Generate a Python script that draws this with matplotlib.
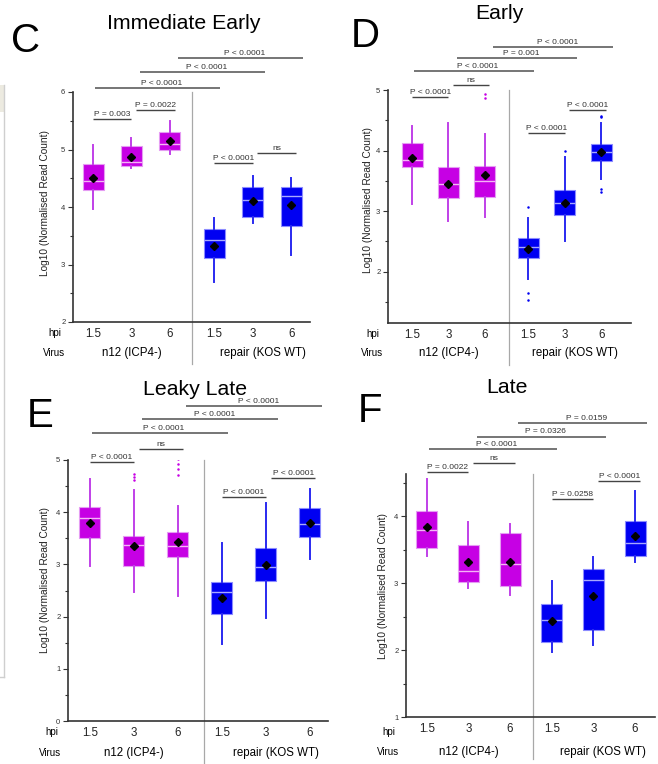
import matplotlib
matplotlib.use('Agg')
from matplotlib import pyplot as plt
import matplotlib.transforms as mtransforms
from matplotlib.lines import Line2D
from matplotlib.patches import Rectangle

plt.rcParams['font.family'] = ['Liberation Sans', 'DejaVu Sans']

W, H = 658, 764

hpi = ['1.5', '3', '6', '1.5', '3', '6']
virus = ['n12 (ICP4-)', 'repair (KOS WT)']
pairs = [(0, 1), (1, 2), (3, 4), (4, 5), (0, 3), (1, 4), (2, 5)]

# C - Immediate Early
ie_lo = [3.97, 4.68, 4.92, 2.70, 3.72, 3.17]
ie_q1 = [4.30, 4.72, 5.00, 3.11, 3.83, 3.67]
ie_med = [4.45, 4.79, 5.10, 3.43, 4.12, 4.19]
ie_q3 = [4.75, 5.06, 5.30, 3.62, 4.35, 4.35]
ie_hi = [5.08, 5.20, 5.50, 3.81, 4.54, 4.50]
ie_mean = [4.50, 4.87, 5.15, 3.32, 4.10, 4.03]
ie_out = [[], [], [], [], [], []]
ie_p = ['P = 0.003', 'P = 0.0022', 'P < 0.0001', 'ns',
        'P < 0.0001', 'P < 0.0001', 'P < 0.0001']

# D - Early
e_lo = [3.12, 2.83, 2.90, 1.87, 2.50, 3.53]
e_q1 = [3.72, 3.21, 3.23, 2.22, 2.94, 3.83]
e_med = [3.85, 3.44, 3.49, 2.41, 3.14, 3.97]
e_q3 = [4.13, 3.72, 3.75, 2.55, 3.35, 4.10]
e_hi = [4.41, 4.46, 4.28, 2.88, 3.90, 4.46]
e_mean = [3.87, 3.45, 3.59, 2.38, 3.14, 3.98]
e_out = [[], [], [4.93, 4.87], [3.07, 1.64, 1.53], [4.0], [4.57, 4.55, 3.37, 3.31]]
e_p = ['P < 0.0001', 'ns', 'P < 0.0001', 'P < 0.0001',
       'P < 0.0001', 'P = 0.001', 'P < 0.0001']

# E - Leaky Late
ll_lo = [2.97, 2.47, 2.39, 1.48, 1.97, 3.10]
ll_q1 = [3.51, 2.97, 3.14, 2.05, 2.68, 3.52]
ll_med = [3.89, 3.37, 3.35, 2.47, 2.95, 3.77]
ll_q3 = [4.10, 3.55, 3.62, 2.66, 3.31, 4.08]
ll_hi = [4.64, 4.42, 4.12, 3.41, 4.18, 4.44]
ll_mean = [3.80, 3.36, 3.43, 2.36, 2.99, 3.79]
ll_out = [[], [4.73, 4.67, 4.61], [5.02, 4.92, 4.82, 4.71], [], [], []]
ll_p = ['P < 0.0001', 'ns', 'P < 0.0001', 'P < 0.0001',
        'P < 0.0001', 'P < 0.0001', 'P < 0.0001']

# F - Late
l_lo = [3.40, 2.93, 2.82, 1.97, 2.07, 3.31]
l_q1 = [3.52, 3.01, 2.96, 2.12, 2.30, 3.40]
l_med = [3.79, 3.18, 3.28, 2.45, 3.05, 3.60]
l_q3 = [4.07, 3.57, 3.75, 2.69, 3.21, 3.93]
l_hi = [4.55, 3.91, 3.88, 3.03, 3.39, 4.37]
l_mean = [3.84, 3.31, 3.31, 2.44, 2.81, 3.70]
l_out = [[], [], [], [], [], []]
l_p = ['P = 0.0022', 'ns', 'P = 0.0258', 'P < 0.0001',
       'P < 0.0001', 'P = 0.0326', 'P = 0.0159']

MAG, BLUE = '#C600E4', '#0000F2'
box_face = [MAG] * 3 + [BLUE] * 3
box_edge = ['#E59CF3'] * 3 + ['#8C8CFF'] * 3
med_col = ['#F4B4F6'] * 3 + ['#A8A8FF'] * 3
whisk_col = ['#C040E8'] * 3 + ['#2A2AF0'] * 3

fig = plt.figure(figsize=(W / 100, H / 100), dpi=100)


def panel(stats, pvals, letter, title, rect, ylim, major, gap, xlim,
          sep, levels, lab_pos):
    left, top, right, bottom = rect
    ax = fig.add_axes([left / W, 1 - bottom / H, (right - left) / W, (bottom - top) / H])
    lo, q1, med, q3, hi, mn, out = stats
    pos = [0, 1, 2, 3 + gap, 4 + gap, 5 + gap]
    unit = (right - left) / (xlim[1] - xlim[0])
    bw = 21 / unit
    st = [dict(whislo=lo[k], q1=q1[k], med=med[k], q3=q3[k], whishi=hi[k],
               mean=mn[k], fliers=out[k]) for k in range(6)]
    res = ax.bxp(st, positions=pos, widths=bw, showmeans=True, showcaps=False,
                 patch_artist=True,
                 meanprops=dict(marker='D', markerfacecolor='black',
                                markeredgecolor='black', markersize=4.5),
                 flierprops=dict(marker='o', markersize=1.8, markeredgewidth=0))
    for k in range(6):
        res['boxes'][k].set(facecolor=box_face[k], edgecolor=box_edge[k], linewidth=0.8)
        res['medians'][k].set(color=med_col[k], linewidth=1.0)
        for w in res['whiskers'][2 * k:2 * k + 2]:
            w.set(color=whisk_col[k], linewidth=1.4)
        res['fliers'][k].set(markerfacecolor=box_face[k])
    ax.set_xlim(*xlim)
    ax.set_ylim(*ylim)
    ax.set_yticks(major)
    ax.set_yticks([v + 0.5 for v in major if v + 0.5 < ylim[1]] +
                  ([major[0] - 0.5] if major[0] - 0.5 > ylim[0] else []), minor=True)
    ax.tick_params(axis='y', which='major', length=3.5, width=0.8, labelsize=5.5,
                   colors='#333333', pad=2)
    ax.tick_params(axis='y', which='minor', length=2, width=0.8, colors='#333333')
    ax.set_xticks(pos, hpi)
    ax.tick_params(axis='x', length=0, labelsize=8.3, pad=4, colors='#222222')
    for s in ['top', 'right']:
        ax.spines[s].set_visible(False)
    for s in ['left', 'bottom']:
        ax.spines[s].set(color='#333333', linewidth=1.2)

    # separator between the two viruses
    trans = mtransforms.blended_transform_factory(ax.transData, ax.transAxes)
    ax.plot([sep, sep], [1.0, -42 / (bottom - top)], color='#A8A8A8', lw=0.9,
            transform=trans, clip_on=False)

    # significance brackets
    for k, ((i, j), lab, yl) in enumerate(zip(pairs, pvals, levels)):
        if j - i == 3:
            x0 = pos[i] + (0.05 if k == 4 else 0.22) * 38 / unit
            x1 = pos[j] + (0.15 if k == 4 else 0.32) * 38 / unit
            col, lw, tshift = '#6A6A6A', 1.3, 4 / unit
        else:
            d = 0.12 if i in (1, 4) else 0.0
            x0, x1 = pos[i] + d, pos[j] + d
            col, lw, tshift = '#444444', 1.0, 0.0
        ax.plot([x0, x1], [yl, yl], color=col, lw=lw, clip_on=False,
                solid_capstyle='butt')
        ax.annotate(lab, ((x0 + x1) / 2 + tshift, yl), xytext=(0, 0.8),
                    textcoords='offset points', ha='center', va='bottom',
                    fontsize=6, color='#333333', annotation_clip=False)

    (lx, ly), (tx, ty), (yx, yy), (hx, hy), (vx, vy) = lab_pos
    fig.text(lx / W, 1 - ly / H, letter, fontsize=29, ha='center', va='baseline')
    fig.text(tx / W, 1 - ty / H, title, fontsize=15.3, ha='center', va='baseline')
    fig.text(yx / W, 1 - yy / H, 'Log10 (Normalised Read Count)', rotation=90,
             fontsize=7.3, ha='center', va='center', color='#222222')
    fig.text(hx / W, 1 - hy / H, 'hpi', fontsize=7, ha='center', va='center')
    fig.text(vx / W, 1 - vy / H, 'Virus', fontsize=7, ha='center', va='center')
    gt = mtransforms.blended_transform_factory(ax.transData, fig.transFigure)
    ax.text(pos[1], 1 - vy / H, virus[0], transform=gt, fontsize=8.3,
            ha='center', va='center')
    ax.text(pos[4] + 10 / unit, 1 - vy / H, virus[1], transform=gt, fontsize=8.3,
            ha='center', va='center')
    return ax


panel((ie_lo, ie_q1, ie_med, ie_q3, ie_hi, ie_mean, ie_out), ie_p, 'C',
      'Immediate Early', (73, 92, 310, 322), (2, 6), [2, 3, 4, 5, 6], 0.15,
      (-0.52, 5.64), 2.57, [5.53, 5.69, 4.77, 4.94, 6.07, 6.35, 6.59],
      [(26, 52), (184, 29), (45, 203), (55, 333), (54, 353)])

panel((e_lo, e_q1, e_med, e_q3, e_hi, e_mean, e_out), e_p, 'D',
      'Early', (388, 90, 631, 323), (1.15, 5), [2, 3, 4, 5], 0.2,
      (-0.66, 6.02), 2.67, [4.88, 5.08, 4.29, 4.67, 5.31, 5.53, 5.71],
      [(365, 47), (499, 19), (368, 200), (373, 334), (372, 353)])

panel((ll_lo, ll_q1, ll_med, ll_q3, ll_hi, ll_mean, ll_out), ll_p, 'E',
      'Leaky Late', (68, 460, 328, 721), (0, 5), [0, 1, 2, 3, 4, 5], 0.0,
      (-0.5, 5.41), 2.59, [4.96, 5.21, 4.29, 4.66, 5.52, 5.79, 6.03],
      [(40, 427), (195, 395), (45, 580), (52, 732), (50, 753)])

panel((l_lo, l_q1, l_med, l_q3, l_hi, l_mean, l_out), l_p, 'F',
      'Late', (406, 474, 655, 717), (1, 4.63), [1, 2, 3, 4], 0.0,
      (-0.5, 5.48), 2.55, [4.66, 4.79, 4.25, 4.52, 5.0, 5.19, 5.39],
      [(370, 422), (507, 393), (383, 586), (389, 732), (388, 752)])

# remains of the neighbouring panel frame at the left edge
fig.add_artist(Rectangle((0, 1 - 112 / H), 4 / W, 27 / H, transform=fig.transFigure,
                         facecolor='#ECEAE0', edgecolor='none'))
fig.add_artist(Line2D([3.5 / W, 3.5 / W], [1 - 85 / H, 1 - 677 / H],
                      transform=fig.transFigure, color='#CFCFCF', lw=1))
fig.add_artist(Line2D([0, 3.5 / W], [1 - 677 / H, 1 - 677 / H],
                      transform=fig.transFigure, color='#CFCFCF', lw=1))

fig.savefig('out.png', dpi=100)
